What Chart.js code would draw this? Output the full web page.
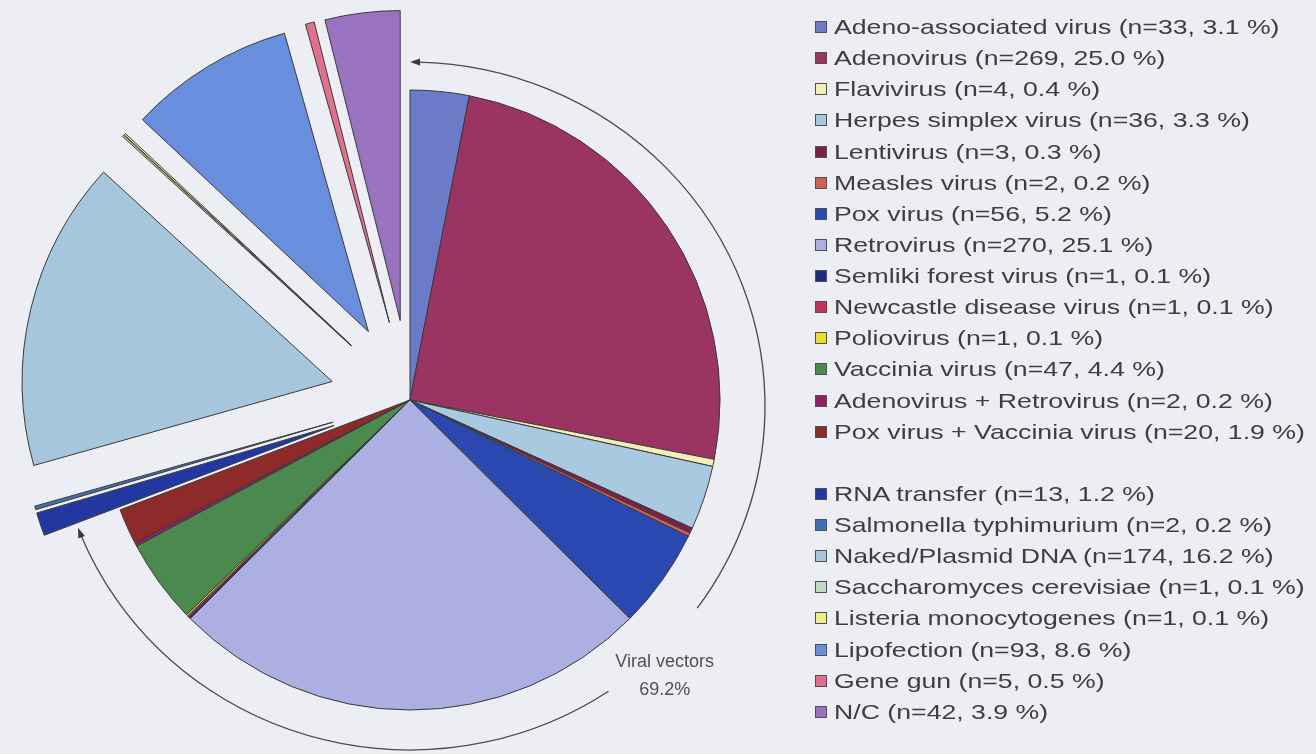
<!DOCTYPE html>
<html>
<head>
<meta charset="utf-8">
<title>Vectors used in gene therapy clinical trials</title>
<script src="https://cdn.jsdelivr.net/npm/chart.js@4"></script>
<style>
  html, body { margin: 0; padding: 0; background: #eceef3; }
  #wrap { position: relative; width: 1316px; height: 754px; overflow: hidden; background: #eceef3; }
  #chart { position: absolute; left: 0; top: 0; }
  #legend {
    position: absolute; left: 815px; top: 11.5px;
    font-family: "Liberation Sans", Arial, sans-serif; font-size: 21px; color: #3e3e3e;
  }
  .item { height: 31.14px; display: flex; align-items: center; white-space: nowrap; }
  .box { width: 10px; height: 10px; border: 1.5px solid #505050; margin-right: 7px; flex: none; }
  /* the legend lettering is set wide */
  .txt { display: inline-block; transform: scaleX(1.27); transform-origin: 0 50%; }
</style>
</head>
<body>
<div id="wrap">
  <canvas id="chart" width="1316" height="754"></canvas>
  <div id="legend"></div>
</div>
<script>
// Viral vectors
const viralNames = [
  'Adeno-associated virus', 'Adenovirus', 'Flavivirus', 'Herpes simplex virus',
  'Lentivirus', 'Measles virus', 'Pox virus', 'Retrovirus', 'Semliki forest virus',
  'Newcastle disease virus', 'Poliovirus', 'Vaccinia virus',
  'Adenovirus + Retrovirus', 'Pox virus + Vaccinia virus'
];
const viralCounts = [33, 269, 4, 36, 3, 2, 56, 270, 1, 1, 1, 47, 2, 20];

// Non-viral methods
const nonViralNames = [
  'RNA transfer', 'Salmonella typhimurium', 'Naked/Plasmid DNA',
  'Saccharomyces cerevisiae', 'Listeria monocytogenes', 'Lipofection',
  'Gene gun', 'N/C'
];
const nonViralCounts = [13, 2, 174, 1, 1, 93, 5, 42];

const viralColors = [
  '#6b7bc8', '#9b3363', '#f2f0b8', '#a9c9e1', '#7a2148', '#d0604f', '#2a48b0',
  '#abafe2', '#1f2a80', '#c2305e', '#e8e02c', '#4a8a4e', '#8e2260', '#8f2a2a'
];
const nonViralColors = [
  '#2238a0', '#3f6fb0', '#a6c6de', '#c3d9c3', '#eeee88', '#6a8ede', '#e0708f', '#9a72c0'
];

const labels = viralNames.concat(nonViralNames);
const counts = viralCounts.concat(nonViralCounts);
const colors = viralColors.concat(nonViralColors);
const total = counts.reduce((a, b) => a + b, 0);
const viralTotal = viralCounts.reduce((a, b) => a + b, 0);
const pct = n => (n / total * 100).toFixed(1);

// Non-viral slices are drawn shifted outwards along their mid-angle
const EXPLODE_PX = 80;
const explodedPie = {
  id: 'explodedPie',
  beforeDatasetDraw(chart, args) {
    const ctx = chart.ctx;
    args.meta.data.forEach((arc, i) => {
      ctx.save();
      if (i >= viralCounts.length) {
        const h = (arc.startAngle + arc.endAngle) / 2;
        ctx.translate(Math.cos(h) * EXPLODE_PX, Math.sin(h) * EXPLODE_PX);
      }
      arc.draw(ctx);
      ctx.restore();
    });
    return false;
  }
};

// Curved double arrow around the viral slices, with its caption
const viralArc = {
  id: 'viralArc',
  afterDatasetsDraw(chart) {
    const meta = chart.getDatasetMeta(0);
    const first = meta.data[0];
    const last = meta.data[viralCounts.length - 1];
    const cx = first.x, cy = first.y + 6;
    const rx = first.outerRadius + 45, ry = first.outerRadius + 34;
    const a0 = first.startAngle, a1 = last.endAngle;
    const deg = Math.PI / 180;
    const gapFrom = 36 * deg, gapTo = 56 * deg, labelAt = 47.5 * deg;
    const head = 10, half = 3.5;
    const ctx = chart.ctx;
    ctx.save();
    ctx.strokeStyle = '#4a4a4a';
    ctx.fillStyle = '#3a3a3a';
    ctx.lineWidth = 1.3;
    const h = head / ((rx + ry) / 2) * 0.8;
    ctx.beginPath();
    ctx.ellipse(cx, cy, rx, ry, 0, a0 + h, gapFrom);
    ctx.stroke();
    ctx.beginPath();
    ctx.ellipse(cx, cy, rx, ry, 0, gapTo, a1 - h);
    ctx.stroke();
    const arrow = (ang, dir) => {
      const tx = cx + rx * Math.cos(ang), ty = cy + ry * Math.sin(ang);
      let ux = -rx * Math.sin(ang) * dir, uy = ry * Math.cos(ang) * dir;
      const len = Math.hypot(ux, uy);
      ux /= len; uy /= len;
      const bx = tx - ux * head, by = ty - uy * head;
      ctx.beginPath();
      ctx.moveTo(tx, ty);
      ctx.lineTo(bx - uy * half, by + ux * half);
      ctx.lineTo(bx + uy * half, by - ux * half);
      ctx.closePath();
      ctx.fill();
    };
    arrow(a0, -1);
    arrow(a1, 1);
    const lx = cx + (rx + 22) * Math.cos(labelAt);
    const ly = cy + (ry + 22) * Math.sin(labelAt);
    ctx.font = '18px "Liberation Sans", Arial, sans-serif';
    ctx.fillStyle = '#505050';
    ctx.textAlign = 'center';
    ctx.textBaseline = 'middle';
    ctx.fillText('Viral vectors', lx, ly - 14);
    ctx.fillText((viralTotal / total * 100).toFixed(1) + '%', lx, ly + 14);
    ctx.restore();
  }
};

const chart = new Chart(document.getElementById('chart'), {
  type: 'pie',
  data: {
    labels: labels,
    datasets: [{
      data: counts,
      backgroundColor: colors,
      borderColor: '#3a3a3a',
      borderWidth: 1,
      hoverOffset: 0
    }]
  },
  options: {
    responsive: false,
    animation: false,
    events: [],
    radius: 310,
    layout: { padding: { left: 0, right: 496, top: 46, bottom: 0 } },
    plugins: { legend: { display: false }, tooltip: { enabled: false } }
  },
  plugins: [explodedPie, viralArc]
});

// Legend: viral group, a blank row, then the non-viral group
const legend = document.getElementById('legend');
function addItem(i) {
  const row = document.createElement('div');
  row.className = 'item';
  const box = document.createElement('span');
  box.className = 'box';
  box.style.background = colors[i];
  const txt = document.createElement('span');
  txt.className = 'txt';
  txt.textContent = labels[i] + ' (n=' + counts[i] + ', ' + pct(counts[i]) + ' %)';
  row.appendChild(box);
  row.appendChild(txt);
  legend.appendChild(row);
}
viralCounts.forEach((_, i) => addItem(i));
const spacer = document.createElement('div');
spacer.className = 'item';
legend.appendChild(spacer);
nonViralCounts.forEach((_, j) => addItem(viralCounts.length + j));
</script>
</body>
</html>
